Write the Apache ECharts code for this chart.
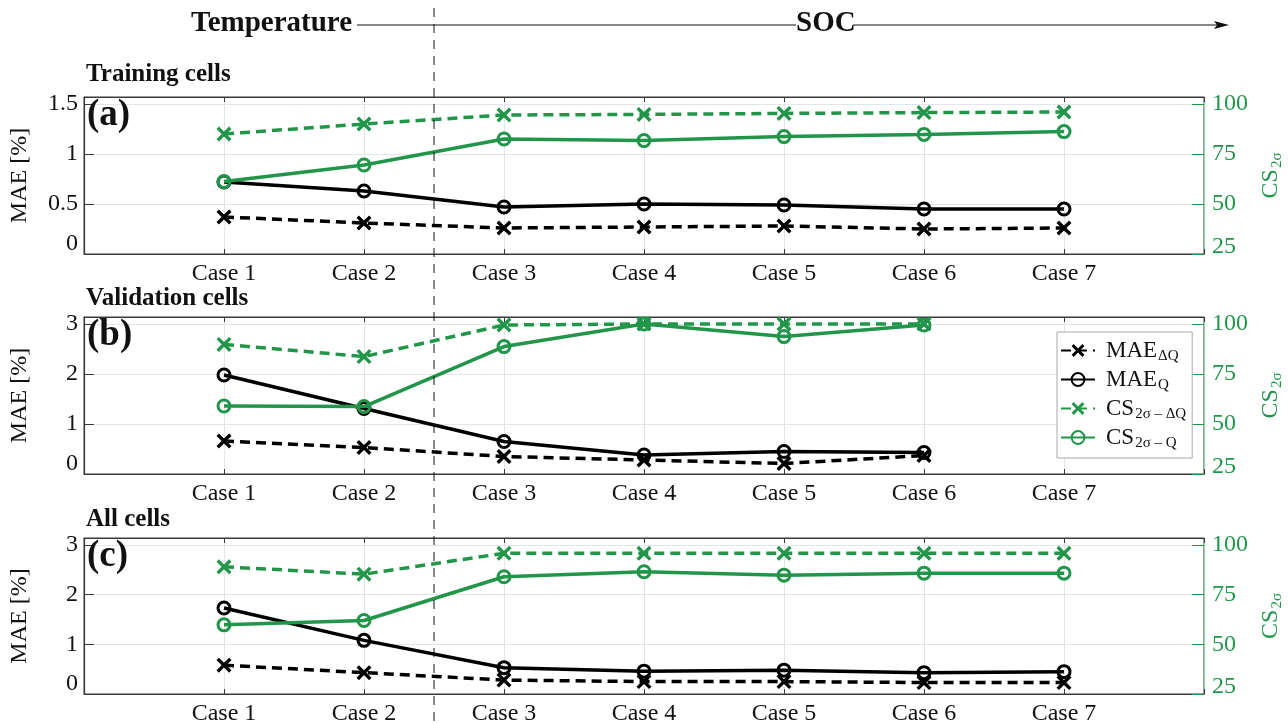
<!DOCTYPE html>
<html>
<head>
<meta charset="utf-8">
<script src="https://cdn.jsdelivr.net/npm/echarts@6/dist/echarts.min.js"></script>
<style>
html,body{margin:0;padding:0;background:#fff;}
#main{width:1288px;height:723px;}
</style>
</head>
<body>
<div id="main"></div>
<script>
// ---------------- data ----------------
const categories = ['Case 1', 'Case 2', 'Case 3', 'Case 4', 'Case 5', 'Case 6', 'Case 7'];
const panelTitles = ['Training cells', 'Validation cells', 'All cells'];
const panelTags = ['(a)', '(b)', '(c)'];
const seriesNames = ['MAE_dQ', 'MAE_Q', 'CS_dQ', 'CS_Q'];

// (a) Training cells
const trainMaeDQ = [0.37, 0.31, 0.26, 0.27, 0.28, 0.25, 0.26];
const trainMaeQ  = [0.72, 0.63, 0.47, 0.50, 0.49, 0.45, 0.45];
const trainCsDQ  = [85.0, 90.0, 94.5, 94.8, 95.3, 95.7, 96.0];
const trainCsQ   = [61.2, 69.5, 82.5, 81.7, 83.7, 84.8, 86.2];

// (b) Validation cells
const valMaeDQ = [0.66, 0.53, 0.35, 0.28, 0.21, 0.37, null];
const valMaeQ  = [1.98, 1.31, 0.65, 0.38, 0.45, 0.43, null];
const valCsDQ  = [89.8, 83.7, 99.5, 100.0, 100.0, 100.0, null];
const valCsQ   = [59.0, 58.7, 88.7, 100.0, 93.7, 99.5, null];

// (c) All cells
const allMaeDQ = [0.58, 0.43, 0.28, 0.25, 0.25, 0.23, 0.23];
const allMaeQ  = [1.73, 1.08, 0.53, 0.46, 0.48, 0.43, 0.45];
const allCsDQ  = [89.0, 85.3, 95.8, 95.8, 95.8, 95.8, 95.8];
const allCsQ   = [59.8, 62.0, 84.0, 86.5, 84.8, 85.8, 85.8];

// ---------------- styling ----------------
const GREEN = '#21964b';
const GREEN_AXIS = '#92d3a7';
const DARK = '#3a3a3a';
const GRIDC = '#e3e6e6';
const FONT = 'Liberation Serif';
const HFONT = 'Liberation Serif';
const FS = 24;

const panels = [
  {data: [trainMaeDQ, trainMaeQ, trainCsDQ, trainCsQ], top: 97, height: 157, leftMax: 1.57, leftStep: 0.5},
  {data: [valMaeDQ, valMaeQ, valCsDQ, valCsQ], top: 317, height: 157, leftMax: 3.14, leftStep: 1},
  {data: [allMaeDQ, allMaeQ, allCsDQ, allCsQ], top: 538, height: 156, leftMax: 3.14, leftStep: 1}
];

const xSymbol = 'path://M1.6,0 L5,3.4 L8.4,0 L10,1.6 L6.6,5 L10,8.4 L8.4,10 L5,6.6 L1.6,10 L0,8.4 L3.4,5 L0,1.6 Z';

const subRich = {
  m: {fontFamily: FONT, fontSize: 23, color: '#111'},
  s: {fontFamily: FONT, fontSize: 15, color: '#111', padding: [12, 0, 0, 1]}
};
const legendText = {
  'MAE_dQ': '{m|MAE}{s|ΔQ}',
  'MAE_Q': '{m|MAE}{s|Q}',
  'CS_dQ': '{m|CS}{s|2σ – ΔQ}',
  'CS_Q': '{m|CS}{s|2σ – Q}'
};

const grids = [], xAxes = [], yAxes = [], series = [];
panels.forEach((p, i) => {
  grids.push({left: 84, right: 84, top: p.top, height: p.height, show: true,
              containLabel: false, outerBoundsMode: 'none',
              borderColor: DARK, borderWidth: 1, backgroundColor: '#fff'});
  xAxes.push({
    gridIndex: i, type: 'value', min: 0, max: categories.length + 1, interval: 1, position: 'bottom',
    axisLine: {onZero: false, lineStyle: {color: DARK, width: 1.2}},
    axisTick: {show: true, inside: true, length: 5, lineStyle: {color: DARK}},
    axisLabel: {fontFamily: FONT, fontSize: FS, color: '#111', margin: 8,
                formatter: v => categories[v - 1] || ''},
    splitLine: {show: true, lineStyle: {color: GRIDC, width: 1}}
  });
  xAxes.push({
    gridIndex: i, type: 'value', min: 0, max: categories.length + 1, interval: 1, position: 'top',
    axisLine: {onZero: false, lineStyle: {color: DARK, width: 1.2}},
    axisTick: {show: true, inside: true, length: 5, lineStyle: {color: DARK}},
    axisLabel: {show: false}, splitLine: {show: false}
  });
  yAxes.push({
    gridIndex: i, type: 'value', min: 0, max: p.leftMax, interval: p.leftStep, position: 'left',
    name: 'MAE [%]', nameLocation: 'middle', nameGap: 52, nameRotate: 90,
    nameTextStyle: {fontFamily: FONT, fontSize: 24, color: '#111'},
    axisLine: {show: true, onZero: false, lineStyle: {color: DARK, width: 1.2}},
    axisTick: {show: true, inside: true, length: 10, lineStyle: {color: DARK}},
    axisLabel: {fontFamily: FONT, fontSize: FS, color: '#111', margin: 6, showMaxLabel: false,
                formatter: v => (v === 0 ? '{lo|0}' : String(v)),
                rich: {lo: {fontFamily: FONT, fontSize: FS, color: '#111', padding: [0, 0, 20, 0]}}},
    splitLine: {show: true, lineStyle: {color: GRIDC, width: 1}}
  });
  yAxes.push({
    gridIndex: i, type: 'value', min: 25, max: 103.5, interval: 25, position: 'right',
    name: '{m|CS}{s|2σ}', nameLocation: 'middle', nameGap: 50, nameRotate: 90,
    nameTextStyle: {fontFamily: FONT, fontSize: 24, color: GREEN,
      rich: {m: {fontFamily: FONT, fontSize: 24, color: GREEN},
             s: {fontFamily: FONT, fontSize: 15, color: GREEN, padding: [12, 0, 0, 1]}}},
    axisLine: {show: true, onZero: false, lineStyle: {color: GREEN_AXIS, width: 1.3}},
    axisTick: {show: true, inside: true, length: 12, lineStyle: {color: GREEN}},
    axisLabel: {fontFamily: FONT, fontSize: FS, color: GREEN, margin: 8, showMaxLabel: false,
                formatter: v => (v === 25 ? '{lo|25}' : String(v)),
                rich: {lo: {fontFamily: FONT, fontSize: FS, color: GREEN, padding: [0, 0, 15, 0]}}},
    splitLine: {show: false}
  });
  const styles = [
    {color: '#000', dashed: true, sym: 'x', yi: 0},
    {color: '#000', dashed: false, sym: 'o', yi: 0},
    {color: GREEN, dashed: true, sym: 'x', yi: 1},
    {color: GREEN, dashed: false, sym: 'o', yi: 1}
  ];
  p.data.forEach((vals, k) => {
    const st = styles[k];
    const pts = [];
    vals.forEach((v, j) => { if (v !== null) pts.push([j + 1, v]); });
    series.push({
      name: seriesNames[k], type: 'line', xAxisIndex: 2 * i, yAxisIndex: 2 * i + st.yi,
      data: pts, showSymbol: true, showAllSymbol: true,
      symbol: st.sym === 'x' ? xSymbol : 'circle',
      symbolSize: st.sym === 'x' ? 15 : 12,
      lineStyle: {color: st.color, width: 3.5, type: st.dashed ? [10, 6] : 'solid'},
      itemStyle: st.sym === 'x'
        ? {color: st.color, borderWidth: 0}
        : {color: 'rgba(255,255,255,0)', borderColor: st.color, borderWidth: 3},
      z: 3 + k,
      emphasis: {disabled: true}
    });
  });
});

const chart = echarts.init(document.getElementById('main'), null, {renderer: 'canvas'});
chart.setOption({
  animation: false,
  backgroundColor: '#fff',
  grid: grids, xAxis: xAxes, yAxis: yAxes, series: series,
  legend: {
    data: seriesNames, orient: 'vertical', left: 1057, top: 332,
    padding: [7, 6, 7, 3], itemGap: 4, itemWidth: 34, itemHeight: 16,
    backgroundColor: '#fff', borderColor: '#a8a8a8', borderWidth: 1,
    formatter: n => legendText[n],
    textStyle: {fontFamily: FONT, fontSize: 23, color: '#111', rich: subRich, padding: [0, 0, 0, 6]},
    selectedMode: false, z: 20
  }
});

// ---------------- annotations ----------------
const xDiv = chart.convertToPixel({xAxisIndex: 0}, 2.5);
const gfx = [];
gfx.push({type: 'line', z: 50, silent: true,
  shape: {x1: xDiv, y1: 8, x2: xDiv, y2: 723},
  style: {stroke: '#111', lineWidth: 1, lineDash: [9, 7]}});
// header
gfx.push({type: 'text', left: 191, top: 9, z: 50,
  style: {text: 'Temperature', font: 'bold 29px "' + HFONT + '"', fill: '#111'}});
gfx.push({type: 'line', z: 50, shape: {x1: 357, y1: 25, x2: 796, y2: 25}, style: {stroke: '#111', lineWidth: 1.2}});
gfx.push({type: 'text', left: 796, top: 9, z: 50,
  style: {text: 'SOC', font: 'bold 29px "' + HFONT + '"', fill: '#111'}});
gfx.push({type: 'line', z: 50, shape: {x1: 853, y1: 25, x2: 1220, y2: 25}, style: {stroke: '#111', lineWidth: 1.2}});
gfx.push({type: 'polygon', z: 50, shape: {points: [[1214, 21], [1229, 25], [1214, 29], [1217, 25]]}, style: {fill: '#111'}});
// panel titles & tags
const titleY = [62, 286, 507];
const tagY = [97, 317, 538];
panelTitles.forEach((t, i) => {
  gfx.push({type: 'text', left: 86, top: titleY[i], z: 50,
    style: {text: t, font: 'bold 25px "' + HFONT + '"', fill: '#111'}});
  gfx.push({type: 'text', left: 87, top: tagY[i], z: 50,
    style: {text: panelTags[i], font: 'bold 37px "' + HFONT + '"', fill: '#111'}});
});
chart.setOption({graphic: gfx});
</script>
</body>
</html>
